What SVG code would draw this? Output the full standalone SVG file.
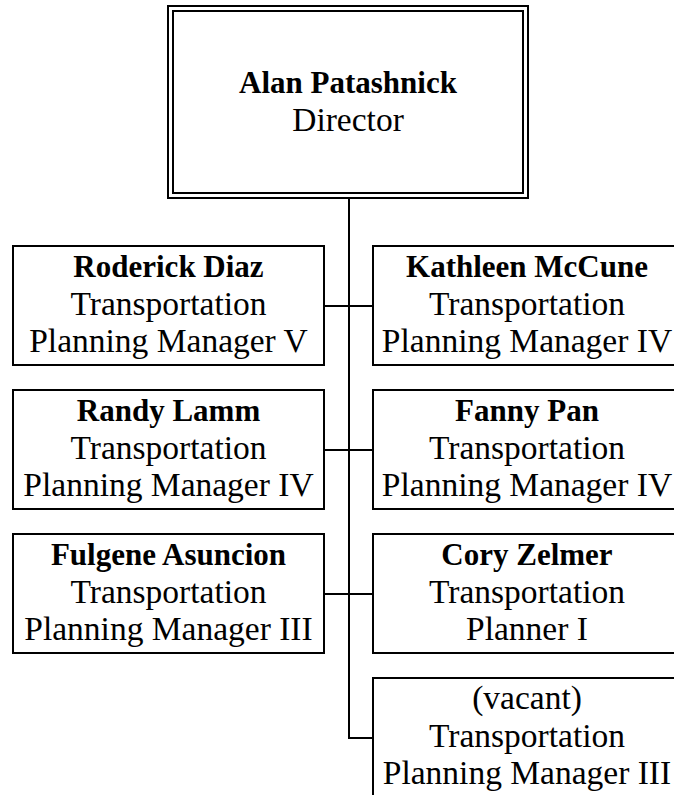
<svg xmlns="http://www.w3.org/2000/svg" width="674" height="795" viewBox="0 0 674 795">
<style>
.box{fill:#fff;stroke:#000;stroke-width:2}
.conn{fill:none;stroke:#000;stroke-width:2}
text{font-family:"Liberation Serif","Times New Roman",serif;text-anchor:middle;fill:#000}
.b{font-weight:bold;font-size:31px}
.r{font-size:33.5px}
</style>
<rect width="674" height="795" fill="#fff"/>
<g id="connectors">
<path class="conn" d="M349 198V738H373"/>
<path class="conn" d="M324 306H373M324 450H373M324 594H373"/>
</g>
<g id="director">
<rect class="box" x="168" y="6" width="360" height="192"/>
<rect class="box" x="173" y="11" width="350" height="182" stroke-width="1.5"/>
<text x="348" y="93" class="b">Alan Patashnick</text>
<text x="348" y="131" class="r">Director</text>
</g>
<g id="diaz">
<rect class="box" x="13" y="246" width="311" height="119"/>
<text x="168.5" y="277" class="b">Roderick Diaz</text>
<text x="168.5" y="315" class="r">Transportation</text>
<text x="168.5" y="352" class="r">Planning Manager V</text>
</g>
<g id="mccune">
<rect class="box" x="373" y="246" width="311" height="119"/>
<text x="527" y="277" class="b">Kathleen McCune</text>
<text x="527" y="315" class="r">Transportation</text>
<text x="527" y="352" class="r">Planning Manager IV</text>
</g>
<g id="lamm">
<rect class="box" x="13" y="390" width="311" height="119"/>
<text x="168.5" y="421" class="b">Randy Lamm</text>
<text x="168.5" y="459" class="r">Transportation</text>
<text x="168.5" y="496" class="r">Planning Manager IV</text>
</g>
<g id="pan">
<rect class="box" x="373" y="390" width="311" height="119"/>
<text x="527" y="421" class="b">Fanny Pan</text>
<text x="527" y="459" class="r">Transportation</text>
<text x="527" y="496" class="r">Planning Manager IV</text>
</g>
<g id="asuncion">
<rect class="box" x="13" y="534" width="311" height="119"/>
<text x="168.5" y="565" class="b">Fulgene Asuncion</text>
<text x="168.5" y="603" class="r">Transportation</text>
<text x="168.5" y="640" class="r">Planning Manager III</text>
</g>
<g id="zelmer">
<rect class="box" x="373" y="534" width="311" height="119"/>
<text x="527" y="565" class="b">Cory Zelmer</text>
<text x="527" y="603" class="r">Transportation</text>
<text x="527" y="640" class="r">Planner I</text>
</g>
<g id="vacant">
<rect class="box" x="373" y="678" width="311" height="130"/>
<text x="527" y="709" class="r">(vacant)</text>
<text x="527" y="747" class="r">Transportation</text>
<text x="527" y="784" class="r">Planning Manager III</text>
</g>
</svg>
